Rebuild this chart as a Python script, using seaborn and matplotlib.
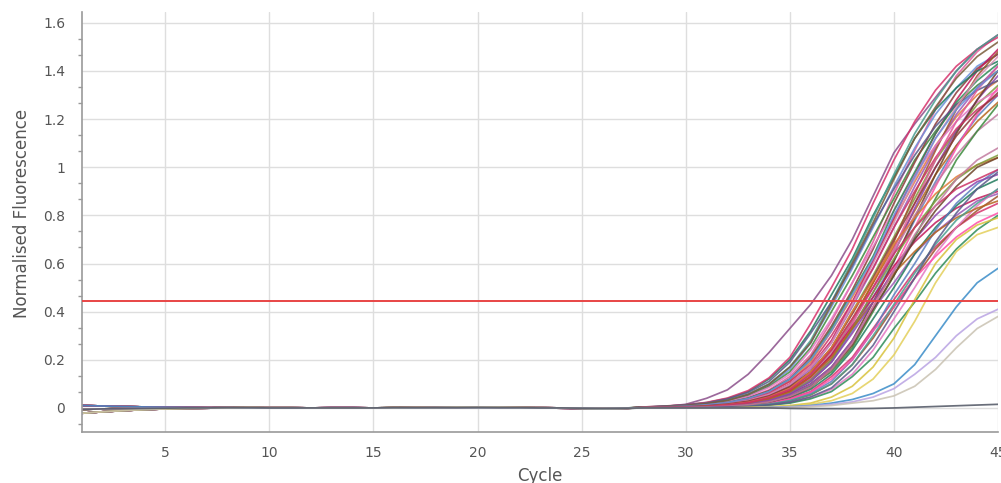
import numpy as np
import pandas as pd
import matplotlib
matplotlib.use("Agg")
import matplotlib.pyplot as plt
from matplotlib.ticker import AutoMinorLocator, FuncFormatter
import seaborn as sns

# ---------------- data ----------------
cycles = list(range(1, 46))
threshold = 0.445

# baseline readings, cycles 1..27
base_a = [-0.022, -0.016, -0.011, -0.007, -0.004, -0.002, -0.001, 0.0, 0.001, 0.001, 0.001, 0.0, 0.0, 0.0,
          0.0, 0.0, 0.001, 0.001, 0.002, 0.002, 0.002, 0.001, 0.001, 0.0, -0.002, -0.003, -0.002]
base_b = [0.010, 0.008, 0.006, 0.004, 0.003, 0.002, 0.001, 0.001, 0.0, 0.0, 0.0, 0.0, 0.001, 0.001,
          0.0, 0.0, 0.0, 0.001, 0.001, 0.001, 0.001, 0.0, 0.0, -0.001, -0.002, -0.003, -0.002]
base_c = [-0.006, -0.004, -0.003, -0.002, -0.001, 0.0, 0.0, 0.001, 0.001, 0.0, 0.0, 0.0, 0.0, 0.0,
          0.0, 0.001, 0.001, 0.001, 0.001, 0.002, 0.001, 0.001, 0.0, 0.0, -0.001, -0.002, -0.001]
baselines = [base_a, base_b, base_c]

# amplification readings, cycles 28..45 (high-plateau wells)
tails_upper = [
    [.002, .004, .008, .014, .024, .043, .075, .13, .22, .36, .52, .69, .89, 1.07, 1.24, 1.38, 1.48, 1.55],
    [.003, .006, .010, .017, .030, .054, .095, .16, .27, .42, .58, .75, .92, 1.08, 1.22, 1.33, 1.42, 1.47],
    [.003, .005, .009, .016, .029, .051, .09, .15, .25, .40, .55, .71, .87, 1.03, 1.15, 1.26, 1.34, 1.40],
    [.002, .004, .008, .013, .023, .041, .071, .12, .21, .34, .49, .66, .85, 1.02, 1.18, 1.31, 1.41, 1.47],
    [.002, .004, .007, .012, .021, .038, .066, .11, .19, .32, .46, .61, .78, .94, 1.09, 1.21, 1.30, 1.36],
    [.002, .003, .006, .010, .018, .032, .057, .10, .17, .28, .44, .61, .79, .97, 1.14, 1.28, 1.40, 1.49],
    [.002, .003, .005, .009, .016, .029, .051, .09, .15, .25, .40, .55, .71, .87, 1.03, 1.15, 1.26, 1.34],
    [.002, .003, .006, .010, .017, .030, .054, .095, .16, .27, .42, .58, .75, .92, 1.08, 1.22, 1.33, 1.42],
    [.004, .007, .013, .022, .039, .068, .12, .20, .32, .47, .62, .80, .96, 1.12, 1.24, 1.33, 1.40, 1.44],
    [.004, .008, .013, .023, .041, .072, .125, .21, .35, .50, .66, .85, 1.03, 1.19, 1.32, 1.42, 1.49, 1.54],
    [.001, .002, .004, .008, .014, .024, .043, .075, .13, .22, .36, .52, .69, .89, 1.07, 1.24, 1.38, 1.48],
    [.001, .002, .004, .007, .012, .021, .038, .066, .11, .19, .32, .46, .61, .78, .94, 1.09, 1.21, 1.30],
    [.003, .005, .009, .015, .027, .048, .085, .14, .24, .37, .52, .67, .82, .97, 1.09, 1.19, 1.27, 1.32],
    [.002, .004, .007, .013, .022, .040, .069, .12, .20, .33, .48, .63, .82, .98, 1.14, 1.27, 1.36, 1.43],
    [.002, .003, .005, .009, .015, .027, .048, .085, .14, .24, .37, .52, .67, .82, .97, 1.09, 1.19, 1.27],
    [.001, .002, .004, .007, .013, .022, .040, .070, .12, .20, .33, .48, .64, .83, 1.00, 1.15, 1.28, 1.38],
    [.001, .002, .003, .006, .010, .017, .030, .054, .095, .16, .27, .42, .58, .75, .92, 1.08, 1.22, 1.33],
    [.001, .002, .003, .006, .010, .018, .032, .057, .10, .17, .28, .44, .61, .79, .97, 1.14, 1.28, 1.40],
    [.003, .006, .010, .018, .032, .057, .10, .17, .28, .44, .61, .79, .97, 1.14, 1.28, 1.40, 1.49, 1.55],
    [.002, .003, .007, .012, .020, .036, .063, .11, .18, .30, .44, .58, .75, .90, 1.04, 1.16, 1.24, 1.30],
    [.002, .002, .005, .008, .015, .026, .047, .082, .14, .23, .36, .50, .65, .80, .93, 1.05, 1.15, 1.22],
    [.003, .007, .012, .020, .037, .064, .11, .19, .31, .44, .59, .76, .91, 1.05, 1.17, 1.26, 1.32, 1.36],
    [.002, .003, .006, .010, .018, .031, .056, .098, .17, .27, .43, .60, .77, .95, 1.12, 1.25, 1.37, 1.46],
    [.003, .006, .010, .018, .031, .056, .098, .17, .27, .43, .60, .77, .95, 1.12, 1.25, 1.37, 1.46, 1.52],
    [.001, .002, .004, .008, .013, .023, .041, .072, .125, .21, .35, .50, .66, .85, 1.03, 1.19, 1.32, 1.42],
    [.002, .004, .007, .013, .022, .039, .068, .12, .20, .32, .47, .62, .80, .96, 1.12, 1.24, 1.33, 1.40],
    [.001, .002, .003, .005, .009, .016, .029, .051, .09, .15, .25, .40, .55, .71, .87, 1.03, 1.15, 1.26],
    [.002, .003, .005, .009, .016, .028, .050, .088, .15, .25, .39, .54, .70, .85, 1.00, 1.13, 1.23, 1.31],
]

# amplification readings, cycles 28..45 (low-plateau wells)
tails_lower = [
    [.001, .002, .004, .006, .013, .023, .045, .081, .15, .25, .40, .53, .68, .79, .89, .96, 1.01, 1.04],
    [.001, .002, .003, .005, .011, .020, .039, .070, .13, .22, .34, .46, .59, .69, .77, .83, .87, .90],
    [.001, .001, .003, .005, .009, .017, .033, .063, .115, .20, .33, .48, .62, .75, .86, .95, 1.01, 1.05],
    [.001, .001, .002, .004, .008, .015, .028, .053, .098, .17, .28, .41, .52, .64, .73, .80, .86, .89],
    [.001, .001, .002, .003, .006, .012, .022, .043, .077, .14, .24, .37, .50, .64, .75, .84, .91, .95],
    [.001, .001, .002, .003, .005, .011, .020, .038, .068, .13, .21, .33, .45, .57, .67, .75, .81, .85],
    [.001, .001, .001, .002, .004, .008, .015, .029, .054, .10, .18, .29, .42, .54, .66, .75, .82, .88],
    [.001, .001, .001, .003, .005, .009, .017, .032, .061, .11, .20, .32, .47, .60, .74, .85, .93, .99],
    [0, .001, .001, .002, .003, .006, .012, .022, .043, .077, .14, .24, .37, .50, .64, .75, .84, .91],
    [0, .001, .001, .002, .003, .005, .011, .020, .038, .068, .13, .21, .33, .44, .56, .66, .74, .80],
    [.001, .001, .003, .005, .010, .019, .037, .067, .13, .21, .33, .44, .56, .65, .73, .79, .83, .86],
    [.001, .001, .003, .004, .009, .016, .031, .058, .11, .19, .31, .44, .57, .70, .80, .88, .94, .97],
    [.001, .001, .001, .003, .005, .010, .019, .036, .065, .12, .20, .32, .42, .54, .63, .71, .77, .81],
    [.001, .001, .002, .004, .007, .013, .024, .047, .084, .16, .26, .41, .55, .70, .82, .92, 1.00, 1.04],
    [.001, .001, .001, .002, .004, .008, .016, .030, .056, .10, .18, .30, .43, .56, .68, .78, .85, .91],
    [.001, .002, .003, .006, .012, .022, .043, .077, .14, .24, .37, .50, .64, .75, .84, .91, .95, .99],
    [.001, .001, .002, .004, .007, .013, .025, .048, .086, .16, .27, .42, .57, .72, .84, .95, 1.03, 1.08],
    [0, .001, .001, .002, .004, .006, .013, .024, .046, .083, .16, .26, .40, .54, .69, .81, .91, .98],
]

tail_early = [.002, .006, .015, .04, .075, .14, .23, .33, .43, .55, .70, .88, 1.06, 1.18, 1.29, 1.40, 1.49, 1.55]
tail_yellow1 = [0, 0, 0, 0, 0, .002, .005, .01, .02, .045, .09, .17, .29, .45, .60, .70, .76, .79]
tail_yellow2 = [0, 0, 0, 0, 0, .001, .003, .007, .015, .03, .06, .12, .22, .36, .52, .65, .72, .75]
tail_blue = [0, 0, 0, 0, 0, 0, .002, .005, .01, .02, .035, .06, .10, .18, .30, .42, .52, .58]
tail_lavender = [0, 0, 0, 0, 0, 0, .002, .004, .008, .015, .025, .045, .08, .14, .21, .30, .37, .41]
tail_beige = [0, 0, 0, 0, 0, 0, 0, .002, .005, .01, .02, .03, .05, .09, .16, .25, .33, .38]
tail_flat = [0, 0, 0, 0, 0, 0, 0, -.002, -.003, -.003, -.003, -.002, 0, .003, .006, .009, .012, .015]

bundle_colors = ["#e05a9a", "#6b8fd8", "#3c8a3c", "#8b3a3a", "#e07b39", "#c2185b", "#7e9c3b",
                 "#9b59b6", "#1f7a5c", "#d6336c", "#a0522d", "#5b7fbf", "#e377c2", "#2e8b57",
                 "#b5651d", "#8e44ad", "#ff4fa8", "#6b4226", "#4a9d8f", "#cc3366", "#c27ba0",
                 "#5a5a8a", "#d98cb3", "#7a5c3a"]

# ---------------- assemble ----------------
series = []
for i, t in enumerate(tails_upper + tails_lower):
    series.append((f"w{i:02d}", baselines[i % 3] + t, bundle_colors[i % len(bundle_colors)]))
series.insert(0, ("early", base_b + tail_early, "#8b4f8b"))
series += [
    ("yellow1", base_a + tail_yellow1, "#d8c23c"),
    ("yellow2", base_c + tail_yellow2, "#e3cf5a"),
    ("blue", base_b + tail_blue, "#3a8cc8"),
    ("lavender", base_c + tail_lavender, "#b9a3e3"),
    ("beige", base_a + tail_beige, "#c9c2b2"),
    ("flat", base_c + tail_flat, "#4f5563"),
]

rows = []
for name, vals, col in series:
    assert len(vals) == len(cycles), (name, len(vals))
    for c, v in zip(cycles, vals):
        rows.append((name, c, v))
df = pd.DataFrame(rows, columns=["well", "cycle", "value"])
palette = {name: col for name, _, col in series}

# ---------------- plot ----------------
sns.set_theme(style="whitegrid")
plt.rcParams["font.family"] = ["DejaVu Sans"]

fig = plt.figure(figsize=(10.01, 4.83), dpi=100)
ax = fig.add_axes([82 / 1001, 51 / 483, 916 / 1001, 420 / 483])

sns.lineplot(data=df, x="cycle", y="value", hue="well", palette=palette, legend=False,
             linewidth=1.25, alpha=0.85, estimator=None, ax=ax)

ax.axhline(threshold, color="#e84545", linewidth=1.4, zorder=5)

ax.set_xlim(1, 45)
ax.set_ylim(-0.1, 1.645)
ax.set_xticks([5, 10, 15, 20, 25, 30, 35, 40, 45])
ax.set_yticks([0, 0.2, 0.4, 0.6, 0.8, 1.0, 1.2, 1.4, 1.6])
ax.yaxis.set_major_formatter(FuncFormatter(lambda v, p: f"{v:g}"))
ax.yaxis.set_minor_locator(AutoMinorLocator(3))

ax.grid(True, which="major", color="#dedede", linewidth=1.0)
ax.grid(False, which="minor")
ax.set_facecolor("white")
for s in ["top", "right"]:
    ax.spines[s].set_visible(False)
for s in ["left", "bottom"]:
    ax.spines[s].set_color("#9a9a9a")
    ax.spines[s].set_linewidth(1.2)

ax.tick_params(axis="y", which="major", length=6, width=1, color="#9a9a9a",
               labelsize=10, labelcolor="#555555", pad=6, direction="out")
ax.tick_params(axis="x", which="major", length=4, width=1, color="#9a9a9a",
               labelsize=10, labelcolor="#555555", pad=6, direction="out")
ax.tick_params(axis="y", which="minor", length=3, width=1, color="#9a9a9a", direction="out", left=True)
ax.tick_params(axis="x", which="minor", bottom=False)

ax.set_xlabel("Cycle", fontsize=12, color="#555555")
ax.set_ylabel("Normalised Fluorescence", fontsize=12, color="#555555")
ax.xaxis.set_label_coords(0.5, -0.083)
ax.yaxis.set_label_coords(-0.056, 0.521)

fig.savefig("out.png", dpi=100)
